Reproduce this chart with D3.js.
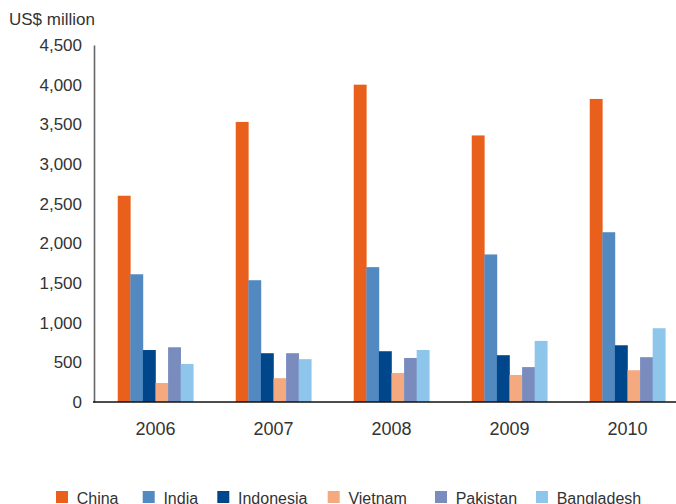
<!DOCTYPE html>
<html>
<head>
<meta charset="utf-8">
<script src="https://cdn.jsdelivr.net/npm/d3@7"></script>
<style>
  html, body { margin: 0; padding: 0; background: #fff; }
  svg { display: block; }
  text { font-family: "Liberation Sans", Arial, Helvetica, sans-serif; fill: #333; }
</style>
</head>
<body>
<svg id="chart" width="676" height="504"></svg>
<script>
const years = ["2006", "2007", "2008", "2009", "2010"];
const countries = ["China", "India", "Indonesia", "Vietnam", "Pakistan", "Bangladesh"];
const china      = [2600, 3530, 4000, 3360, 3820];
const india      = [1610, 1535, 1700, 1860, 2140];
const indonesia  = [655, 615, 640, 590, 715];
const vietnam    = [240, 300, 365, 340, 400];
const pakistan   = [690, 615, 555, 440, 565];
const bangladesh = [480, 540, 655, 770, 930];
const yTicks = [0, 500, 1000, 1500, 2000, 2500, 3000, 3500, 4000, 4500];
const colors = ["#E8601C", "#5289C1", "#00468B", "#F4A97E", "#7A8BBE", "#8EC5EB"];

const seriesValues = [china, india, indonesia, vietnam, pakistan, bangladesh];
const data = years.map((yr, i) => ({
  year: yr,
  values: countries.map((c, j) => ({ country: c, value: seriesValues[j][i] }))
}));

const svg = d3.select("#chart");

const x0 = d3.scaleBand().domain(years).range([96.5, 686.5]).paddingInner(0.36).paddingOuter(0.18);
const x1 = d3.scaleBand().domain(countries).range([0, x0.bandwidth()]).padding(0);
const y = d3.scaleLinear().domain([0, 4500]).range([402, 45]);
const color = d3.scaleOrdinal().domain(countries).range(colors);

// bars
const groups = svg.append("g").selectAll("g").data(data).join("g")
  .attr("transform", d => `translate(${x0(d.year)},0)`);
groups.selectAll("rect").data(d => d.values).join("rect")
  .attr("x", d => x1(d.country))
  .attr("width", x1.bandwidth() + 0.3)
  .attr("y", d => y(d.value))
  .attr("height", d => y(0) - y(d.value))
  .attr("fill", d => color(d.country));

// y axis
const yAxis = d3.axisLeft(y).tickValues(yTicks).tickFormat(d3.format(",")).tickSize(0).tickPadding(12);
const gy = svg.append("g").attr("transform", "translate(94,0)").call(yAxis);
gy.select(".domain").attr("stroke", "#666").attr("stroke-width", 1.6);
gy.selectAll("text").style("font-size", "17px").attr("fill", "#333");

// x axis
const xAxis = d3.axisBottom(x0).tickSize(0).tickPadding(20);
const gx = svg.append("g").attr("transform", "translate(0,402)").call(xAxis);
gx.select(".domain").remove();
gx.selectAll("text").style("font-size", "18px").attr("fill", "#333");
svg.append("line").attr("x1", 93).attr("x2", 676).attr("y1", 402).attr("y2", 402)
  .attr("stroke", "#111").attr("stroke-width", 1.7);

// y unit label
svg.append("text").attr("x", 9).attr("y", 25).style("font-size", "17px").text("US$ million");

// legend
const legendX = [56, 142.7, 217.3, 327.7, 435, 536];
const lg = svg.append("g").selectAll("g").data(countries).join("g")
  .attr("transform", (d, i) => `translate(${legendX[i]},491)`);
lg.append("rect").attr("width", 12).attr("height", 12).attr("fill", d => color(d));
lg.append("text").attr("x", 20.7).attr("y", 12.5).style("font-size", "16px").text(d => d);
</script>
</body>
</html>
